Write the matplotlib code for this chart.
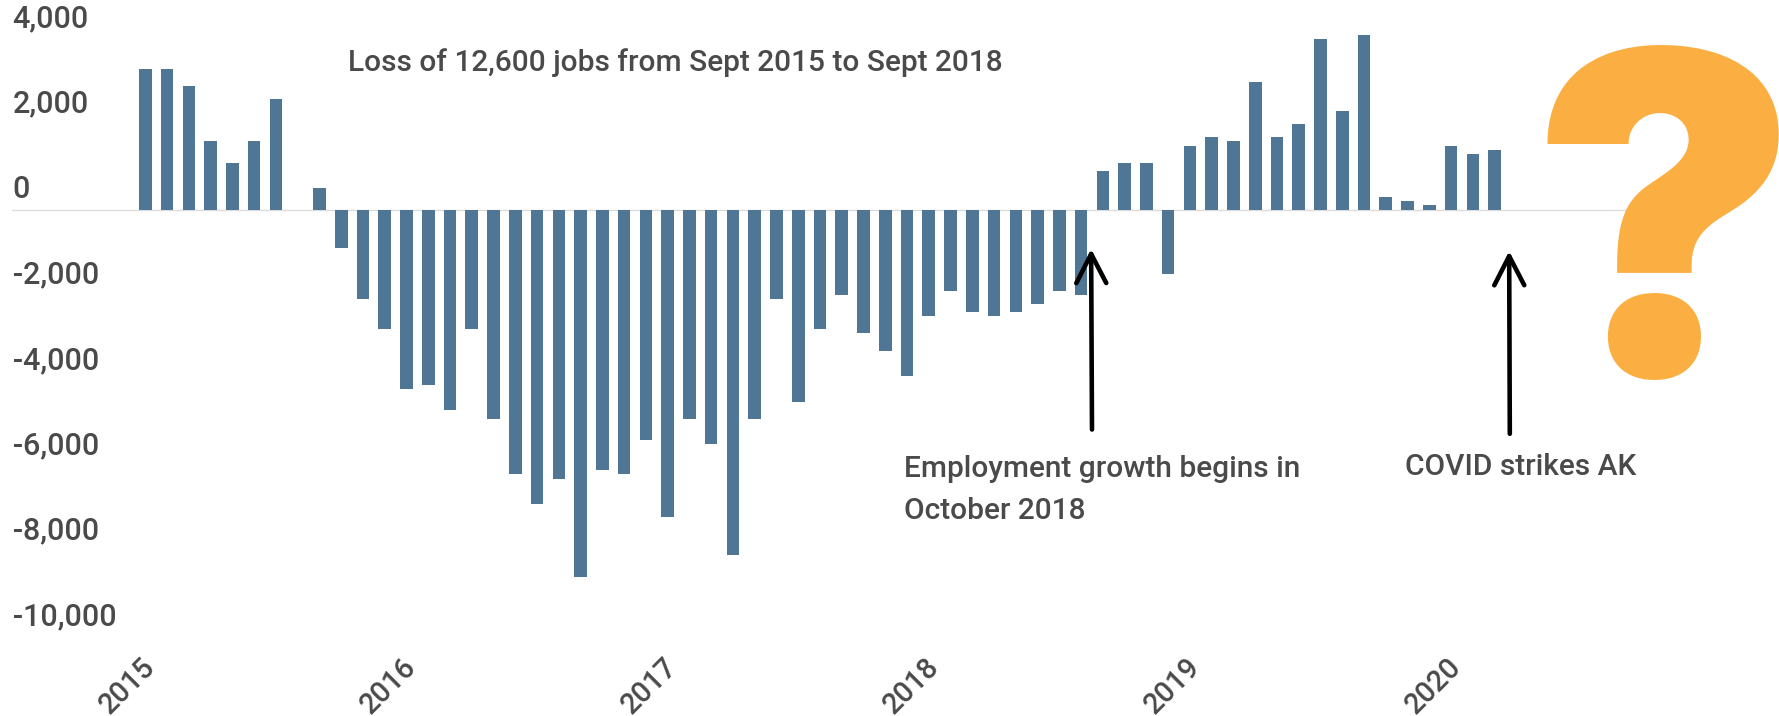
import matplotlib.pyplot as plt
from matplotlib.transforms import ScaledTranslation

# monthly change in jobs, over the year (Jan 2015 on)
jobs = [3300, 3300, 2900, 1600, 1100, 1600, 2600, 0, 500, -900, -2100, -2800,
        -4200, -4100, -4700, -2800, -4900, -6200, -6900, -6300, -8600, -6100, -6200, -5400,
        -7200, -4900, -5500, -8100, -4900, -2100, -4500, -2800, -2000, -2900, -3300, -3900,
        -2500, -1900, -2400, -2500, -2400, -2200, -1900, -2000, 900, 1100, 1100, -1500,
        1500, 1700, 1600, 3000, 1700, 2000, 4000, 2300, 4100, 300, 200, 100,
        1500, 1300, 1400]
year_pos = [0, 12, 24, 36, 48, 60]
year_labels = ['2015', '2016', '2017', '2018', '2019', '2020']
y_ticks = [4000, 2000, 0, -2000, -4000, -6000, -8000, -10000]

BAR = '#4f7694'
TEXT = '#4a4a4a'
ORANGE = '#fbae42'

plt.rcParams['font.family'] = ['Roboto', 'DejaVu Sans']
plt.rcParams['font.weight'] = 'medium'

fig = plt.figure(figsize=(17.79, 7.16), dpi=100)
ax = fig.add_axes([0, 66 / 716, 1, 650 / 716])

ax.bar(range(len(jobs)), jobs, width=0.58, color=BAR, zorder=2)
ax.axhline(0, xmin=0.0065, xmax=0.944, color='#dcdcdc', lw=1, zorder=1)

ax.set_xlim(-6.68, 75.07)
ax.set_ylim(-10314, 4911)

for s in ax.spines.values():
    s.set_visible(False)

ax.set_xticks(year_pos)
ax.set_xticklabels(year_labels, rotation=45, ha='right', rotation_mode='anchor')
ax.set_yticks(y_ticks)
ax.set_yticklabels([f'{v:,}' for v in y_ticks])
ax.tick_params(axis='x', length=0, pad=3, labelsize=21, labelcolor=TEXT)
ax.tick_params(axis='y', length=0, pad=-9, labelsize=22, labelcolor=TEXT)

# x labels a little to the left of their bar
xshift = ScaledTranslation(-3 / 72, 1 / 72, fig.dpi_scale_trans)
for lab in ax.get_xticklabels():
    lab.set_transform(lab.get_transform() + xshift)

# y labels sit above their value, inside the plot
shift = ScaledTranslation(0, 4 / 72, fig.dpi_scale_trans)
for lab in ax.get_yticklabels():
    lab.set_ha('left')
    lab.set_va('bottom')
    lab.set_transform(lab.get_transform() + shift)

ax.text(9.3, 3450, 'Loss of 12,600 jobs from Sept 2015 to Sept 2018',
        fontsize=21.5, color=TEXT, va='center')
ax.text(34.85, -6560, 'Employment growth begins in\nOctober 2018', fontsize=21.5,
        color=TEXT, va='center', linespacing=1.65)
ax.text(57.9, -6030, 'COVID strikes AK', fontsize=21.5, color=TEXT, va='center')

arrow = dict(arrowstyle='->,head_length=2.1,head_width=1.08', color='black', lw=3.3,
             shrinkA=0, shrinkB=0)
ax.annotate('', xy=(43.46, -920), xytext=(43.5, -5150), arrowprops=arrow)
ax.annotate('', xy=(62.67, -970), xytext=(62.7, -5250), arrowprops=arrow)

# big question mark on the right
ax.text(1664 / 1779, 458 / 716, '?', transform=fig.transFigure, fontsize=321, color=ORANGE,
        family='Inter', fontweight=900, ha='center', va='center', zorder=3)

fig.savefig('out.png', dpi=100)
